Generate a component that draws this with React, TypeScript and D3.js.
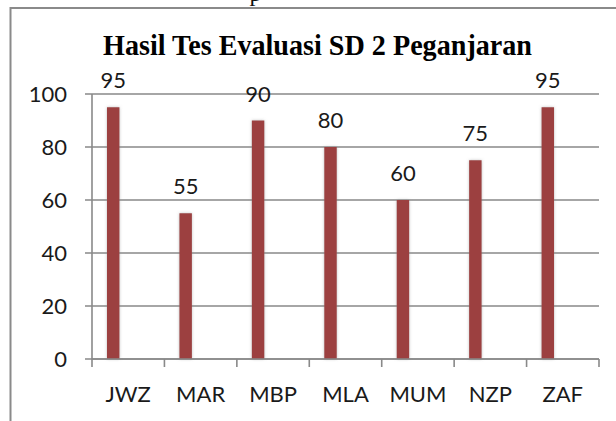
import React from "react";
import * as d3 from "d3";

const categories = ["JWZ", "MAR", "MBP", "MLA", "MUM", "NZP", "ZAF"];
const values = [95, 55, 90, 80, 60, 75, 95];
const yTicks = [0, 20, 40, 60, 80, 100];
const title = "Hasil Tes Evaluasi SD 2 Peganjaran";

const W = 616;
const H = 421;

export default function App() {
  React.useEffect(() => {
    document.body.style.margin = "0";
  }, []);

  const x = d3.scaleBand<string>().domain(categories).range([92, 599]).paddingInner(0).paddingOuter(0);
  const y = d3.scaleLinear().domain([0, 100]).range([359, 94]);
  const bw = x.bandwidth();
  const barOff = bw * 0.207;
  const barW = bw * 0.172;
  const font = "Lato, 'Open Sans', sans-serif";
  const gridColor = "#898989";

  return (
    <svg width={W} height={H} style={{ display: "block", background: "#fff" }}>
      <defs>
        <filter id="shadow" x="-60%" y="-10%" width="220%" height="120%">
          <feDropShadow dx="0" dy="0" stdDeviation="1.6" floodColor="#8c8c8c" floodOpacity="0.55" />
        </filter>
      </defs>
      {/* fragment of text above the frame */}
      <text x={249.5} y={1} fontFamily="'Liberation Serif', serif" fontSize={24} fill="#111">p</text>
      {/* outer frame */}
      <rect x={10.5} y={8} width={W + 20} height={H + 20} fill="#fff" stroke="#8a8a8a" strokeWidth={2} />
      {/* title */}
      <text x={103} y={55} fontFamily="'Liberation Serif', 'Times New Roman', serif" fontWeight="bold" fontSize={30}
        textLength={429} lengthAdjust="spacingAndGlyphs" fill="#000">{title}</text>
      {/* gridlines + y ticks */}
      {yTicks.map((t) => (
        <g key={t}>
          <line x1={85} x2={599} y1={y(t)} y2={y(t)} stroke={gridColor} strokeWidth={1.6} />
          <text x={67} y={y(t) + 8} textAnchor="end" fontFamily={font} fontSize={22} fill="#1a1a1a">{t}</text>
        </g>
      ))}
      {/* y axis */}
      <line x1={92} x2={92} y1={y(100)} y2={y(0)} stroke={gridColor} strokeWidth={1.6} />
      {/* x axis ticks */}
      {categories.map((c) => (
        <line key={c} x1={x(c)!} x2={x(c)!} y1={y(0)} y2={367} stroke={gridColor} strokeWidth={1.6} />
      ))}
      <line x1={599} x2={599} y1={y(0)} y2={367} stroke={gridColor} strokeWidth={1.6} />
      {/* bars */}
      {categories.map((c, i) => (
        <rect key={c} x={x(c)! + barOff} y={y(values[i])} width={barW} height={y(0) - y(values[i])}
          fill="#9c3f3f" filter="url(#shadow)" />
      ))}
      {/* x axis line drawn over bar bottoms */}
      <line x1={92} x2={599} y1={y(0)} y2={y(0)} stroke={gridColor} strokeWidth={1.6} />
      {/* data labels */}
      {categories.map((c, i) => (
        <text key={c} x={x(c)! + barOff + barW / 2} y={y(values[i]) - 19} textAnchor="middle"
          fontFamily={font} fontSize={22} fill="#1a1a1a">{values[i]}</text>
      ))}
      {/* category labels */}
      {categories.map((c) => (
        <text key={c} x={x(c)! + bw / 2} y={402} textAnchor="middle" fontFamily={font} fontSize={22} fill="#1a1a1a">{c}</text>
      ))}
    </svg>
  );
}
